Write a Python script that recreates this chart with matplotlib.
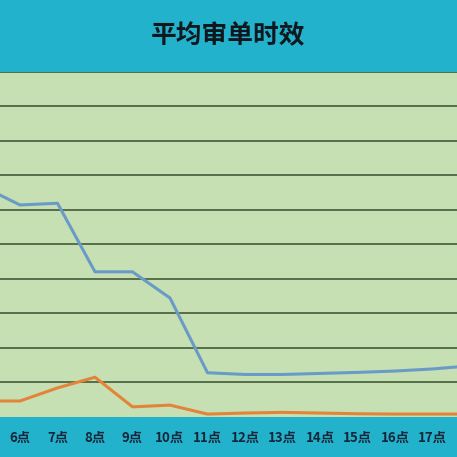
import numpy as np
import matplotlib
matplotlib.use("Agg")
import matplotlib.pyplot as plt

plt.rcParams['font.family'] = ['Noto Sans CJK SC', 'DejaVu Sans']

hours = [5, 6, 7, 8, 9, 10, 11, 12, 13, 14, 15, 16, 17, 18]
labels = [str(h) + "点" for h in hours]
blue_vals = [6.68, 6.14, 6.19, 4.20, 4.20, 3.44, 1.27, 1.22, 1.22, 1.25, 1.28, 1.32, 1.38, 1.47]
orange_vals = [0.45, 0.45, 0.83, 1.14, 0.28, 0.33, 0.07, 0.10, 0.12, 0.10, 0.08, 0.07, 0.07, 0.07]

teal = "#23B2CB"
green = "#C6E0B4"

fig = plt.figure(figsize=(4.57, 4.57), dpi=100, facecolor=teal)
# plot area runs past both sides of the picture (cropped chart)
ax = fig.add_axes([-36.25/457, (457-416.5)/457, 525/457, 344.5/457])
ax.set_facecolor(green)

x = np.arange(len(hours))
ax.plot(x, blue_vals, color="#6A9BC6", linewidth=2.2, zorder=3)
ax.plot(x, orange_vals, color="#E3843A", linewidth=2.2, zorder=3)

ax.set_xlim(-0.5, len(hours) - 0.5)
ax.set_ylim(0, 10)
ax.set_yticks(np.arange(1, 11))
ax.yaxis.grid(True, color="#34502C", linewidth=1.1)
ax.set_axisbelow(True)
ax.tick_params(axis="y", left=False, labelleft=False)
ax.set_xticks(x)
ax.set_xticklabels(labels, fontsize=9.6, fontweight="bold", color="#16263A")
ax.tick_params(axis="x", length=0, pad=10.5)
for s in ax.spines.values():
    s.set_visible(False)

fig.text(0.5, 1 - 36/457, "平均审单时效", ha="center", va="center",
         fontsize=18.5, fontweight="bold", color="#10171E")

fig.savefig("out.png", dpi=100, facecolor=teal)
